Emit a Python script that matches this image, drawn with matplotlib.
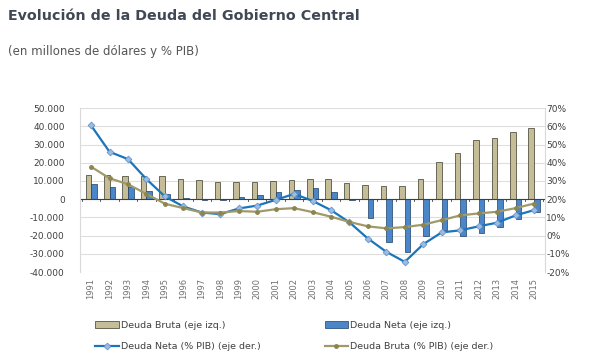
import matplotlib.pyplot as plt
import matplotlib.ticker as mticker
import numpy as np

years = [str(y) for y in range(1991, 2016)]
deuda_bruta = [13300, 13300, 13000, 13000, 12500, 10900, 10400, 9600, 9600, 9600,
               9800, 10400, 10900, 10900, 9100, 7600, 7100, 7500, 10900, 20400,
               25600, 32500, 33600, 36700, 38900]
deuda_neta = [8200, 6500, 6500, 4700, 2900, 700, -200, -300, 1400, 2500,
              4000, 5300, 5900, 4200, -200, -10500, -23500, -28900, -20200, -16700,
              -20200, -18400, -15100, -10700, -7100]
neta_pib = [60.5, 46.0, 42.0, 31.0, 21.5, 16.0, 12.7, 11.8, 14.9, 16.5,
            19.6, 22.9, 19.1, 14.0, 7.3, -1.6, -8.9, -14.4, -4.7, 1.8,
            2.9, 5.1, 7.1, 11.1, 14.0]
bruta_pib = [37.8, 31.5, 28.2, 22.9, 17.5, 15.1, 12.7, 12.7, 13.5, 13.1,
             14.5, 15.1, 12.9, 10.4, 7.5, 5.1, 4.0, 4.7, 6.0, 8.5,
             11.1, 12.2, 13.1, 15.1, 17.6]

fig = plt.figure(figsize=(5.97, 3.58), dpi=100)
ax = fig.add_axes([0.134, 0.240, 0.779, 0.458])
ax2 = ax.twinx()

x = np.arange(len(years))
w = 0.3
b1 = ax.bar(x - w / 2, deuda_bruta, w, color="#c4bd97", edgecolor="#3a3a2a", linewidth=0.5,
            label="Deuda Bruta (eje izq.)", zorder=2)
b2 = ax.bar(x + w / 2, deuda_neta, w, color="#4a86c8", edgecolor="#1f3f66", linewidth=0.5,
            label="Deuda Neta (eje izq.)", zorder=2)

l1, = ax2.plot(x, neta_pib, color="#1b75bb", linewidth=1.6, marker="D", markersize=3.5,
               markerfacecolor="#9bbbe0", markeredgecolor="#5a8cc8", markeredgewidth=0.5,
               label="Deuda Neta (% PIB) (eje der.)", zorder=3)
l2, = ax2.plot(x, bruta_pib, color="#a09a6a", linewidth=1.6, marker="o", markersize=2.5,
               markerfacecolor="#8c8550", markeredgecolor="#8c8550",
               label="Deuda Bruta (% PIB) (eje der.)", zorder=3)

ax.set_xlim(-0.6, len(years) - 0.4)
ax.set_ylim(-40000, 50000)
ax2.set_ylim(-20, 70)
ax.set_yticks(range(-40000, 50001, 10000))
ax2.set_yticks(range(-20, 71, 10))
ax.yaxis.set_major_formatter(mticker.FuncFormatter(lambda v, p: f"{v:,.0f}".replace(",", ".")))
ax2.yaxis.set_major_formatter(mticker.FuncFormatter(lambda v, p: f"{v:.0f}%"))

ax.grid(axis="y", color="#dedede", linewidth=0.8, zorder=0)
ax.set_axisbelow(True)
ax.axhline(0, color="#404040", linewidth=0.8, zorder=2.5)
for xi in np.arange(-0.5, len(years), 1):
    ax.plot([xi, xi], [0, -800], color="#404040", linewidth=0.6, zorder=2.5)

ax.set_xticks(x)
ax.set_xticklabels(years, rotation=90, fontsize=6, color="#707070")
ax.tick_params(axis="x", length=0, pad=4)
ax.tick_params(axis="y", length=0, labelsize=6.5, labelcolor="#404040", pad=11)
ax2.tick_params(axis="y", length=0, labelsize=6.5, labelcolor="#404040", pad=1)

for a in (ax, ax2):
    for s in a.spines.values():
        s.set_visible(False)
ax.spines["left"].set_visible(True)
ax.spines["left"].set_color("#d9d9d9")
ax2.spines["right"].set_visible(True)
ax2.spines["right"].set_color("#d9d9d9")

fig.text(0.013, 0.955, "Evolución de la Deuda del Gobierno Central", fontsize=10.3,
         fontweight="bold", color="#404855", va="center")
fig.text(0.013, 0.855, "(en millones de dólares y % PIB)", fontsize=8.5,
         color="#555555", va="center")

fig.legend([b1, l1, b2, l2], [b1.get_label(), l1.get_label(), b2.get_label(), l2.get_label()],
           ncol=2, loc="lower left", bbox_to_anchor=(0.145, -0.005),
           frameon=False, fontsize=6.8, columnspacing=6.8, handlelength=2.5,
           handletextpad=0.2, labelspacing=1.3, labelcolor="#404040")

fig.savefig("out.png", dpi=100)
